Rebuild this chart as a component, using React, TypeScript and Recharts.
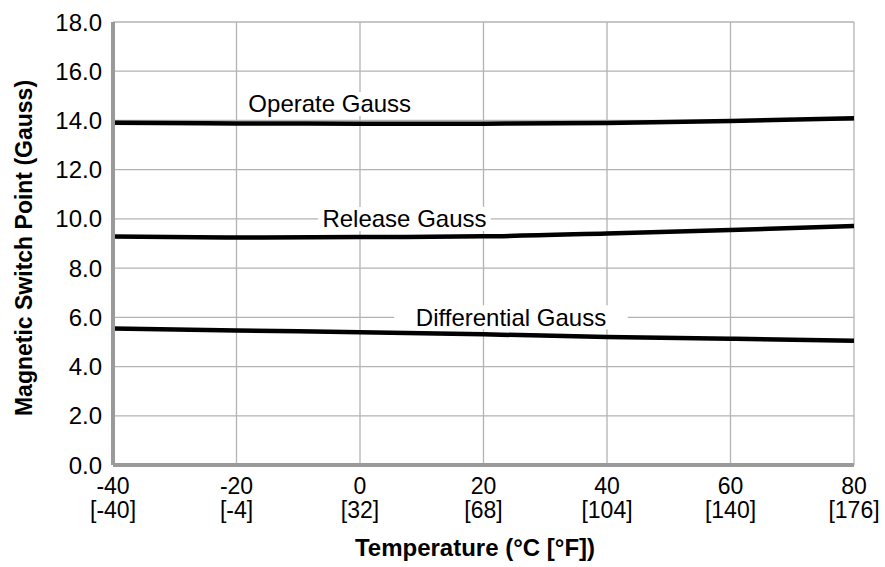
import React from "react";
import {
  LineChart,
  Line,
  XAxis,
  YAxis,
  CartesianGrid,
  ReferenceDot,
  Label,
} from "recharts";

// temperature in °C, with the °F equivalents shown under each tick
const tempC = [-40, -20, 0, 20, 40, 60, 80];
const tempF = [-40, -4, 32, 68, 104, 140, 176];

// gauss readings at each temperature
const operateGauss = [13.91, 13.88, 13.87, 13.87, 13.9, 13.98, 14.09];
const releaseGauss = [9.28, 9.24, 9.26, 9.29, 9.41, 9.55, 9.71];
const differentialGauss = [5.55, 5.47, 5.39, 5.31, 5.2, 5.13, 5.05];

const yTicks = [0, 2, 4, 6, 8, 10, 12, 14, 16, 18];

// in-plot series labels
const labelTexts = ["Operate Gauss", "Release Gauss", "Differential Gauss"];
const labelTemps = [-4.9, 7.2, 24.45];
const labelValues = [14.67, 10.0, 6.0];

const FONT = "'Liberation Sans', Arial, Helvetica, sans-serif";
const GRID = "#b3b3b3";
const AXIS = "#9a9a9a";

const chartData = tempC.map((t, i) => ({
  temp: t,
  operate: operateGauss[i],
  release: releaseGauss[i],
  differential: differentialGauss[i],
}));

function XTick(props: any) {
  const { x, y, payload } = props;
  const idx = tempC.indexOf(payload.value);
  return (
    <g>
      <text x={x} y={y + 29} textAnchor="middle" fontSize={23} fontFamily={FONT} fill="#000">
        {payload.value}
      </text>
      <text x={x} y={y + 53} textAnchor="middle" fontSize={23} fontFamily={FONT} fill="#000">
        [{tempF[idx]}]
      </text>
    </g>
  );
}

function BoxLabel({ cx, cy, text }: { cx: number; cy: number; text: string }) {
  const w = text.length * 12.2 + 14;
  return (
    <g>
      <rect x={cx - w / 2} y={cy - 12} width={w} height={24} fill="#fff" />
      <text x={cx} y={cy} dy="0.35em" textAnchor="middle" fontSize={24} fontFamily={FONT} fill="#000">
        {text}
      </text>
    </g>
  );
}

export default function App() {
  return (
    <div style={{ position: "absolute", left: 0, top: 0, background: "#fff" }}>
      <LineChart
        width={885}
        height={567}
        data={chartData}
        margin={{ top: 22, right: 31, bottom: 0, left: 0 }}
      >
        <CartesianGrid stroke={GRID} strokeWidth={1.3} />
        <XAxis
          dataKey="temp"
          type="number"
          domain={[-40, 80]}
          ticks={tempC}
          height={102}
          tickLine={false}
          tickSize={0}
          tickMargin={0}
          axisLine={{ stroke: AXIS, strokeWidth: 4 }}
          tick={<XTick />}
        >
          <Label
            content={() => (
              <text x={475} y={556} textAnchor="middle" fontSize={24} fontWeight="bold" fontFamily={FONT} fill="#000">
                Temperature (°C [°F])
              </text>
            )}
          />
        </XAxis>
        <YAxis
          type="number"
          domain={[0, 18]}
          ticks={yTicks}
          width={113}
          tickLine={false}
          tickSize={0}
          tickMargin={11}
          axisLine={{ stroke: AXIS, strokeWidth: 4 }}
          tickFormatter={(v: number) => v.toFixed(1)}
          tick={{ fill: "#000", fontSize: 24, fontFamily: FONT }}
        >
          <Label
            content={() => (
              <text
                x={32}
                y={248}
                transform="rotate(-90, 32, 248)"
                textAnchor="middle"
                fontSize={23}
                fontWeight="bold"
                fontFamily={FONT}
                fill="#000"
              >
                Magnetic Switch Point (Gauss)
              </text>
            )}
          />
        </YAxis>
        {labelTexts.map((t, i) => (
          <ReferenceDot
            key={t}
            x={labelTemps[i]}
            y={labelValues[i]}
            r={0}
            shape={(p: any) => <BoxLabel cx={p.cx} cy={p.cy} text={t} />}
          />
        ))}
        <Line type="monotone" dataKey="operate" stroke="#000" strokeWidth={4.5} dot={false} isAnimationActive={false} />
        <Line type="monotone" dataKey="release" stroke="#000" strokeWidth={4.5} dot={false} isAnimationActive={false} />
        <Line type="monotone" dataKey="differential" stroke="#000" strokeWidth={4.5} dot={false} isAnimationActive={false} />
      </LineChart>
    </div>
  );
}
